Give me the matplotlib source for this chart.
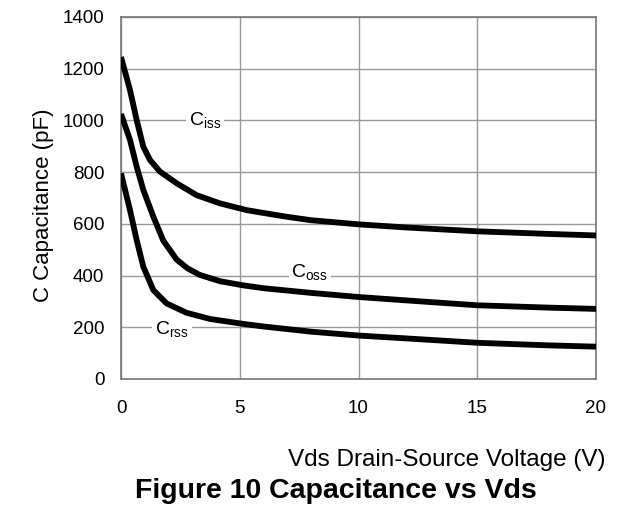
import numpy as np
import matplotlib.pyplot as plt

plt.rcParams['font.family'] = ['Liberation Sans', 'DejaVu Sans']

# valeurs (Vds en V, capacite en pF)
vds_ciss = [0, 0.38, 0.66, 0.94, 1.22, 1.64, 2.34, 3.18, 4.17, 5.29, 6, 7, 8, 10, 12, 15, 18, 20]
ciss = [1245, 1117, 1001, 898, 847, 802, 757, 711, 679, 653, 642, 627, 614, 598, 586, 571, 561, 555]

vds_coss = [0, 0.38, 0.66, 0.94, 1.36, 1.78, 2.34, 2.8, 3.3, 4.17, 5.15, 6, 8, 10, 12, 15, 18, 20]
coss = [1025, 924, 821, 731, 628, 535, 462, 428, 403, 378, 362, 351, 333, 317, 304, 285, 276, 271]

vds_crss = [0, 0.38, 0.66, 0.94, 1.36, 1.92, 2.76, 3.75, 5.15, 6, 8, 10, 12, 15, 18, 20]
crss = [795, 653, 537, 434, 344, 292, 256, 232, 213, 203, 183, 168, 157, 140, 130, 125]

xticks = [0, 5, 10, 15, 20]
yticks = [0, 200, 400, 600, 800, 1000, 1200, 1400]

fig = plt.figure(figsize=(6.18, 5.15), dpi=100)
ax = fig.add_axes([0.1958, 0.2641, 0.7686, 0.703])

ax.grid(True, color='#999999', linewidth=1.0)
ax.set_axisbelow(True)

for x, y in [(vds_ciss, ciss), (vds_coss, coss), (vds_crss, crss)]:
    ax.plot(x, y, color='black', linewidth=4.2, solid_capstyle='butt',
            solid_joinstyle='round', zorder=3)

ax.set_xlim(0, 20)
ax.set_ylim(0, 1400)
ax.set_xticks(xticks)
ax.set_yticks(yticks)
ax.tick_params(length=0, labelsize=13.5)
ax.tick_params(axis='y', pad=12)
ax.tick_params(axis='x', pad=15)
for s in ax.spines.values():
    s.set_color('#777777')
    s.set_linewidth(1.2)

box = dict(facecolor='white', edgecolor='none', pad=2)
ax.text(3.55, 1000, r'C$_{\mathregular{iss}}$', fontsize=14, ha='center', va='center', bbox=box, zorder=2)
ax.text(7.95, 410, r'C$_{\mathregular{oss}}$', fontsize=14, ha='center', va='center', bbox=box, zorder=2)
ax.text(2.15, 190, r'C$_{\mathregular{rss}}$', fontsize=14, ha='center', va='center', bbox=box, zorder=2)

fig.text(44 / 618, 1 - 205 / 515, 'C Capacitance (pF)', fontsize=16,
         rotation=90, ha='center', va='center')
fig.text(606 / 618, 1 - 460 / 515, 'Vds Drain-Source Voltage (V)', fontsize=17.5,
         ha='right', va='center')
fig.text(336 / 618, 1 - 491 / 515, 'Figure 10 Capacitance vs Vds', fontsize=20.5,
         fontweight='bold', ha='center', va='center')

fig.savefig('out.png', dpi=100)
